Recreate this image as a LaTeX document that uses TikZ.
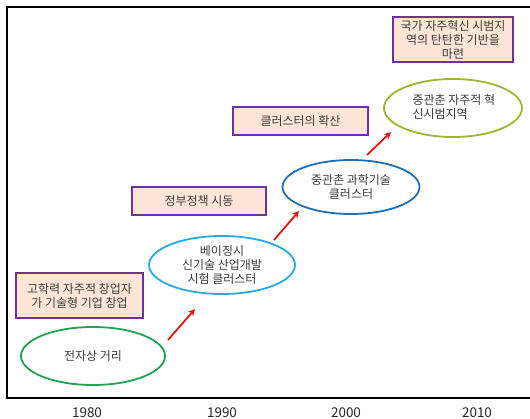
\documentclass[tikz,border=0pt]{standalone}
\usepackage{fontspec}
\setmainfont{Noto Sans CJK KR}
\usetikzlibrary{shapes.geometric,arrows.meta}
\definecolor{boxline}{RGB}{112,48,160}
\definecolor{boxfill}{RGB}{252,229,214}
\definecolor{ogreen}{RGB}{34,160,84}
\definecolor{ocyan}{RGB}{40,170,220}
\definecolor{oblue}{RGB}{30,110,180}
\definecolor{oolive}{RGB}{160,180,50}
\definecolor{arrred}{RGB}{230,20,20}
\definecolor{txtgray}{RGB}{60,60,60}
\begin{document}
\begin{tikzpicture}[x=1pt,y=-1pt,
  txt/.style={text=txtgray, font=\fontsize{12}{14}\selectfont, align=center},
  box/.style={txt, draw=boxline, line width=1.6pt, fill=boxfill, inner sep=0pt, rectangle},
  oval/.style={ellipse, line width=1.8pt, inner sep=0pt, txt},
  arr/.style={-{Stealth[length=7pt,width=7pt]}, line width=1.8pt, draw=arrred},
  yr/.style={font=\fontsize{13.5}{14}\selectfont, text=black!85}]
\useasboundingbox (0,0) rectangle (530,419);
\fill[white] (0,0) rectangle (530,419);
% frame
\draw[line width=1.4pt] (545,7) -- (7,7) -- (7,398) -- (545,398);
% boxes
\node[box, minimum width=127pt, minimum height=45pt] (b1) at (79.5,295.5) {고학력 자주적 창업자\\가 기술형 기업 창업};
\node[box, minimum width=134pt, minimum height=28pt] (b2) at (199,201) {정부정책 시동};
\node[box, minimum width=135pt, minimum height=28pt] (b3) at (300.5,121) {클러스터의 확산};
\node[box, minimum width=120pt, minimum height=45pt] (b4) at (453,39.5) {국가 자주혁신 시범지\\역의 탄탄한 기반을\\마련};
% ellipses
\node[oval, draw=ogreen, minimum width=144pt, minimum height=58pt] (e1) at (93,356) {전자상 거리};
\node[oval, draw=ocyan, minimum width=146pt, minimum height=58pt] (e2) at (222,265) {베이징시\\신기술 산업개발\\시험 클러스터};
\node[oval, draw=oblue, minimum width=137pt, minimum height=54pt] (e3) at (351,187) {중관촌 과학기술\\클러스터};
\node[oval, draw=oolive, minimum width=138pt, minimum height=58pt] (e4) at (453,108) {};
\node[txt, align=left, anchor=west] (e4t) at (409,107) {중관춘 자주적 혁\\신시범지역};
% arrows
\coordinate (a1s) at (168,340); \coordinate (a1e) at (195,309);
\coordinate (a2s) at (274,240); \coordinate (a2e) at (299,211);
\coordinate (a3s) at (367,155); \coordinate (a3e) at (391,132);
\draw[arr] (a1s) -- (a1e);
\draw[arr] (a2s) -- (a2e);
\draw[arr] (a3s) -- (a3e);
% years
\node[yr] (y1) at (87,413) {1980};
\node[yr] (y2) at (222,413) {1990};
\node[yr] (y3) at (346,413) {2000};
\node[yr] (y4) at (477,413) {2010};
\end{tikzpicture}
\end{document}
